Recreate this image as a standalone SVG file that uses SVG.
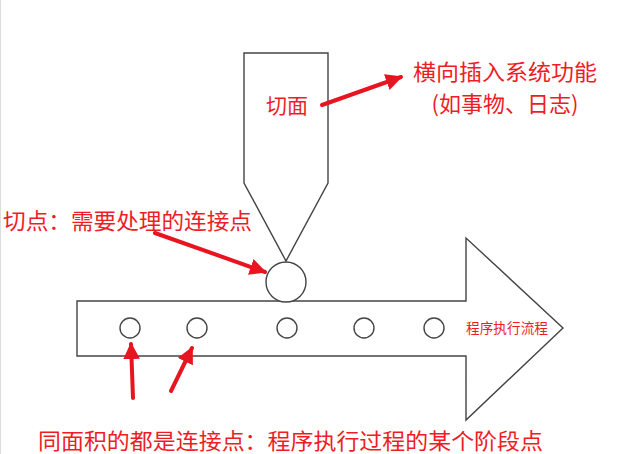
<svg xmlns="http://www.w3.org/2000/svg" width="635" height="454" viewBox="0 0 635 454">
<defs>
<style>
.sh{fill:#fff;stroke:#444;stroke-width:1.4}
.lbl{fill:#ee1d25;font-family:"Noto Sans CJK SC","Liberation Sans",sans-serif}
.ar{stroke:#e8141f;stroke-width:4;fill:none;stroke-linecap:round}
</style>
<marker id="ah" viewBox="0 0 10 10" refX="9" refY="5" markerWidth="4.2" markerHeight="4.2" orient="auto" markerUnits="strokeWidth">
<path d="M0,0 L10,5 L0,10 z" fill="#e8141f"/>
</marker>
</defs>
<rect width="635" height="454" fill="#fff"/>
<line x1="0.5" y1="0" x2="0.5" y2="454" stroke="#ddd" stroke-width="1"/>
<g id="flow-arrow">
<path class="sh" d="M77,301 H466 V238 L563,328 L466,420 V356 H77 Z"/>
<text class="lbl" x="466" y="333" font-size="14" textLength="82" lengthAdjust="spacingAndGlyphs">程序执行流程</text>
</g>
<g id="aspect">
<path class="sh" d="M244,53 H328 V183 L286,261 L244,183 Z"/>
<text class="lbl" x="266" y="113" font-size="21">切面</text>
</g>
<g id="cut-point">
<circle class="sh" cx="286" cy="282" r="20"/>
</g>
<g id="join-points">
<circle class="sh" cx="130" cy="328" r="10"/>
<circle class="sh" cx="197" cy="328" r="10"/>
<circle class="sh" cx="287" cy="328" r="10"/>
<circle class="sh" cx="364" cy="328" r="10"/>
<circle class="sh" cx="434" cy="328" r="10"/>
</g>
<g id="label-aspect">
<text class="lbl" x="413" y="80" font-size="22" textLength="184" lengthAdjust="spacingAndGlyphs">横向插入系统功能</text>
<text class="lbl" x="505" y="112" font-size="22" text-anchor="middle">(如事物、日志)</text>
</g>
<g id="label-cut">
<text class="lbl" x="3" y="229" font-size="22" textLength="249" lengthAdjust="spacingAndGlyphs">切点：需要处理的连接点</text>
</g>
<g id="label-join">
<text class="lbl" x="38" y="449" font-size="22" textLength="505" lengthAdjust="spacingAndGlyphs">同面积的都是连接点：程序执行过程的某个阶段点</text>
</g>
<g id="connectors">
<line class="ar" x1="322" y1="105" x2="401" y2="77" marker-end="url(#ah)"/>
<line class="ar" x1="155" y1="233" x2="265" y2="272" marker-end="url(#ah)"/>
<line class="ar" x1="133" y1="398" x2="131" y2="344" marker-end="url(#ah)"/>
<line class="ar" x1="171" y1="391" x2="192" y2="348" marker-end="url(#ah)"/>
</g>
</svg>
